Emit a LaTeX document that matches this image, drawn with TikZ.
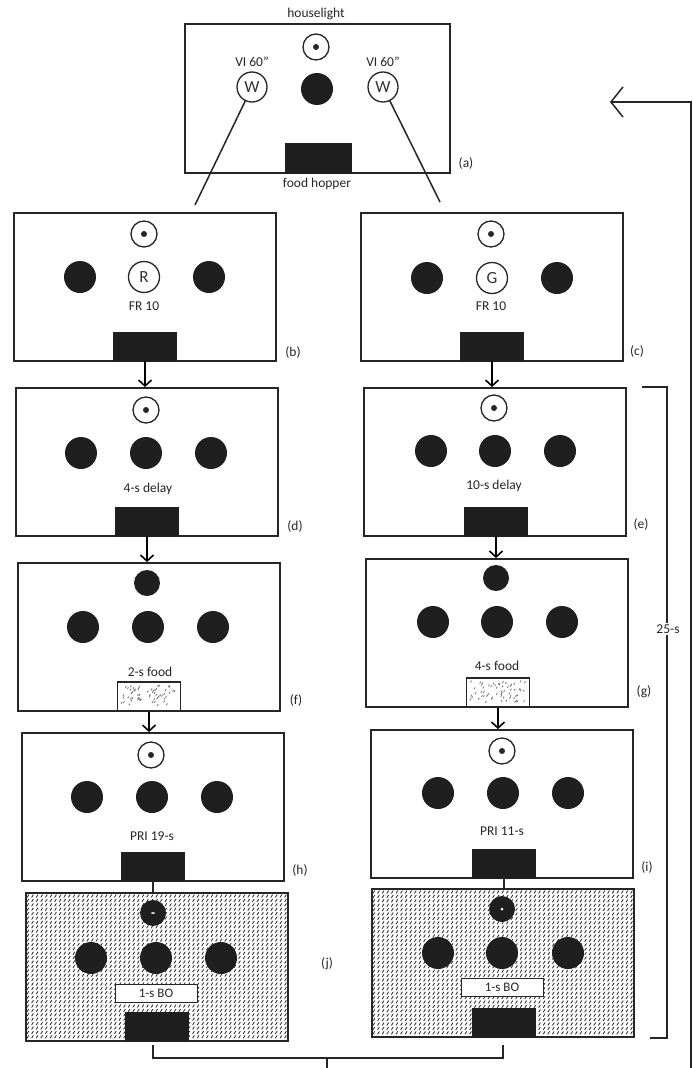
\documentclass[tikz,border=0pt]{standalone}
\usepackage{fontspec}
\setmainfont{Carlito}
\usetikzlibrary{arrows.meta}
\newcommand\mkpanel[3]{\node[box] (#1) at (#2,{#3+74}) {};}
\newcommand\mkhopper[3]{\node[hop] (#1) at (#2,{#3+133.5}) {};}
\newcommand\mklamp[3]{\node[lamp] (#1) at (#2,#3) {};\fill[black!85] (#1.center) circle[radius=3pt];}
\newcommand\mkkeys[5]{\node[key] (#1L) at (#2,#5) {};\node[key] (#1M) at (#3,#5) {};\node[key] (#1R) at (#4,#5) {};}
\newcommand\mkfood[3]{\node[food] (#1) at (#2,{#3+133.5}) {};
  \foreach \k in {1,...,60}{\pgfmathsetmacro\px{#2-28+rnd*55}\pgfmathsetmacro\py{#3+123+rnd*21}\draw[stip] (\px,\py) -- ++(0.8,-1.5);}}
\newcommand\mkhatch[2]{\begin{scope}
  \clip (#1,#2) rectangle ({#1+262},{#2+148});
  \foreach \yy in {3,7.4,...,147}{\draw[hatchln] \foreach \xx in {1,5.6,...,262}{({#1+\xx},{#2+\yy+1.4}) -- ++(1.8,-2.8)};}
  \end{scope}}
\begin{document}
\begin{tikzpicture}[x=1pt,y=-1pt,
  ln/.style={draw=black!85, line width=1.5pt},
  box/.style={draw=black!85, line width=1.8pt, minimum width=262pt, minimum height=148pt, inner sep=0pt},
  hop/.style={fill=black!88, draw=black!88, line width=0.6pt, minimum width=63pt, minimum height=29pt, inner sep=0pt},
  food/.style={fill=white, draw=black!85, line width=1.2pt, minimum width=63pt, minimum height=29pt, inner sep=0pt},
  stip/.style={draw=black!55, line width=0.8pt, line cap=round},
  hatchln/.style={draw=black!85, line width=0.8pt},
  key/.style={circle, fill=black!88, minimum size=32pt, inner sep=0pt},
  topkey/.style={circle, fill=black!88, minimum size=26pt, inner sep=0pt},
  lamp/.style={circle, draw=black!85, fill=white, line width=1.3pt, minimum size=26pt, inner sep=0pt},
  ring/.style={circle, draw=black!85, fill=white, line width=1.3pt, minimum size=31pt, inner sep=0pt, font=\fontsize{17}{17}\selectfont, text=black!80},
  txt/.style={font=\fontsize{13.5}{15}\selectfont, text=black!85, inner sep=1pt},
  bo/.style={draw=black!85, fill=white, line width=1pt, minimum width=82pt, minimum height=18pt, inner sep=0pt, font=\fontsize{13}{14}\selectfont, text=black!85},
  arr/.style={draw=black, line width=1.6pt, -{Straight Barb[length=6pt,width=13pt,line width=1.6pt]}}
]
\useasboundingbox (0,0) rectangle (693,1068);
\fill[white] (0,0) rectangle (693,1068);

% ---------- (a)
\node[box, minimum width=265pt, minimum height=149pt] (a) at (317.5,98.5) {};
\node[txt] (hlt) at (316,14) {houselight};
\mklamp{aL}{316}{47}
\node[key] (aK) at (317,89) {};
\node[ring, minimum size=30pt] (wl) at (252,87) {W};
\node[ring, minimum size=30pt] (wr) at (383,87) {W};
\node[txt] (vil) at (252,62) {VI 60"};
\node[txt] (vir) at (383,62) {VI 60"};
\node[hop, minimum width=66pt, minimum height=30pt] (ah) at (318,158) {};
\node[txt] (fh) at (317,184) {food hopper};
\node[txt] (alab) at (466,163) {(a)};
\coordinate (lend) at (195,205);
\coordinate (rend) at (440,202);
\draw[ln] (wl) -- (lend);
\draw[ln] (wr) -- (rend);

% ---------- (b)
\mkpanel{b}{145}{213}
\mklamp{bL}{144}{234}
\node[key] (bK1) at (80,277) {};
\node[ring] (bR) at (144,277) {R};
\node[key] (bK3) at (209,277) {};
\node[txt] (bt) at (144,306) {FR 10};
\mkhopper{bh}{145}{213}
\node[txt] (blab) at (293,352) {(b)};

% ---------- (c)
\mkpanel{c}{492}{213}
\mklamp{cL}{491}{234}
\node[key] (cK1) at (427,278) {};
\node[ring] (cG) at (492,278) {G};
\node[key] (cK3) at (557,278) {};
\node[txt] (ct) at (491,306) {FR 10};
\mkhopper{ch}{492}{213}
\node[txt] (clab) at (637,351) {(c)};

% ---------- (d)
\mkpanel{d}{147}{388}
\mklamp{dL}{146}{410}
\mkkeys{dK}{81}{146}{211}{453}
\node[txt] (dt) at (148,489) {4-s delay};
\mkhopper{dh}{147}{388}
\node[txt] (dlab) at (295,526) {(d)};

% ---------- (e)
\mkpanel{e}{495}{388}
\mklamp{eL}{494}{408}
\mkkeys{eK}{431}{495}{560}{451}
\node[txt] (et) at (494,486) {10-s delay};
\mkhopper{eh}{496}{388}
\node[txt] (elab) at (641,524) {(e)};

% ---------- (f)
\mkpanel{f}{149}{563}
\node[topkey] (fT) at (147,583) {};
\mkkeys{fK}{83}{148}{213}{627}
\node[txt] (ft) at (150,672) {2-s food};
\pgfmathsetseed{11}
\mkfood{ff}{149}{563}
\node[txt] (flab) at (296,700) {(f)};

% ---------- (g)
\mkpanel{g}{497}{559}
\node[topkey] (gT) at (496,578) {};
\mkkeys{gK}{433}{497}{562}{622}
\node[txt] (gt) at (497,666) {4-s food};
\mkfood{gf}{498}{559}
\node[txt] (glab) at (644,692) {(g)};

% ---------- (h)
\mkpanel{h}{153}{733}
\mklamp{hL}{151}{755}
\mkkeys{hK}{87}{152}{217}{797}
\node[txt] (ht) at (152,836) {PRI 19-s};
\mkhopper{hh}{153}{733}
\node[txt] (hlab) at (300,870) {(h)};

% ---------- (i)
\mkpanel{i}{502}{730}
\mklamp{iL}{502}{751}
\mkkeys{iK}{438}{503}{568}{793}
\node[txt] (it) at (502,831) {PRI 11-s};
\mkhopper{ih}{504}{730}
\node[txt] (ilab) at (647,867) {(i)};

% ---------- (j) left
\mkhatch{26}{893}
\mkpanel{j}{157}{893}
\node[topkey] (jT) at (153,913) {};
\fill[white] (jT.center) ellipse[x radius=2pt, y radius=0.8pt];
\mkkeys{jK}{91}{156}{221}{958}
\node[bo] (jbo) at (156,993) {1-s BO};
\mkhopper{jh}{157}{893}
\node[txt] (jlab) at (327,964) {(j)};

% ---------- (j) right
\mkhatch{372}{889}
\mkpanel{k}{503}{889}
\node[topkey] (kT) at (502,909) {};
\fill[white] (kT.center) circle[radius=1.5pt];
\mkkeys{kK}{438}{502}{568}{953}
\node[bo] (kbo) at (502,987.5) {1-s BO};
\mkhopper{kh}{504}{889}

% ---------- arrows between panels
\draw[arr] (bh.south) -- (bh.south |- d.north);
\draw[arr] (dh.south) -- (dh.south |- f.north);
\draw[arr] (ff.south) -- (ff.south |- h.north);
\draw[arr] (ch.south) -- (ch.south |- e.north);
\draw[arr] (eh.south) -- (eh.south |- g.north);
\draw[arr] (gf.south) -- (gf.south |- i.north);
\draw[ln] (hh.south) -- (hh.south |- j.north);
\draw[ln] (ih.south) -- (ih.south |- k.north);

% ---------- 25-s bracket
\coordinate (s1) at (642,387);
\coordinate (s2) at (667,387);
\coordinate (s3) at (667,1038);
\coordinate (s4) at (650,1038);
\draw[ln] (s1) -- (s2) -- (s3) -- (s4);
\node[txt, fill=white, inner sep=2pt] (slab) at (668,629) {25-s};

% ---------- bottom bracket
\coordinate (q1) at (153,1045);
\coordinate (q2) at (153,1058);
\coordinate (q3) at (503,1058);
\coordinate (q4) at (503,1045);
\coordinate (q5) at (327,1058);
\coordinate (q6) at (327,1068);
\draw[ln] (q1) -- (q2) -- (q3) -- (q4);
\draw[ln] (q5) -- (q6);

% ---------- return arrow
\coordinate (r1) at (691,1068);
\coordinate (r2) at (691,102);
\coordinate (r3) at (610,102);
\draw[ln, -{Straight Barb[length=12pt,width=30pt,line width=1.5pt]}] (r1) -- (r2) -- (r3);
\end{tikzpicture}
\end{document}
